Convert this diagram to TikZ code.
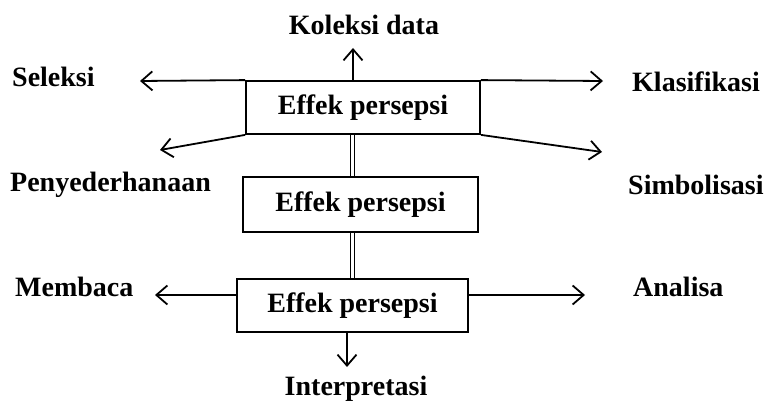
\documentclass[tikz,border=0pt]{standalone}
\usepackage{fontspec}
\setmainfont{Liberation Serif}
\usetikzlibrary{arrows.meta}
\begin{document}
\begin{tikzpicture}[x=1pt,y=-1pt,
  box/.style={draw,line width=1.8pt,inner sep=0pt,font=\fontsize{28pt}{34pt}\selectfont\bfseries},
  lbl/.style={inner sep=0pt,anchor=base west,font=\fontsize{28pt}{34pt}\selectfont\bfseries},
  arr/.style={line width=1.8pt,-{Straight Barb[length=11pt,width=19pt,line width=1.8pt]}},
  dbl/.style={draw,double,line width=1.4pt,double distance=2.5pt}]
\useasboundingbox (0,0) rectangle (774,406);
\node[box,minimum width=234pt,minimum height=53pt] (b1) at (363,107.5) {Effek persepsi};
\node[box,minimum width=235pt,minimum height=55pt] (b2) at (360.5,204.5) {Effek persepsi};
\node[box,minimum width=231pt,minimum height=53pt] (b3) at (352.5,305.5) {Effek persepsi};
\node[lbl,anchor=base] (kol) at (364,35) {Koleksi data};
\node[lbl] (sel) at (12,87) {Seleksi};
\node[lbl] (kla) at (632,92) {Klasifikasi};
\node[lbl] (pen) at (10,192) {Penyederhanaan};
\node[lbl] (sim) at (628,195) {Simbolisasi};
\node[lbl] (mem) at (15,297) {Membaca};
\node[lbl] (ana) at (633,297) {Analisa};
\node[lbl,anchor=base] (int) at (356,395) {Interpretasi};
\coordinate (tkol) at (353,48);
\coordinate (tsel) at (140,81);
\coordinate (tkla) at (603,81);
\coordinate (tpen) at (160,150);
\coordinate (tsim) at (602,152);
\coordinate (tmem) at (155,295);
\coordinate (tana) at (585,295);
\coordinate (tint) at (347,367);
\draw[arr] (b1.north -| tkol) -- (tkol);
\draw[arr] (b1.north west) -- (tsel);
\draw[arr] (b1.north east) -- (tkla);
\draw[arr] (b1.south west) -- (tpen);
\draw[arr] (b1.south east) -- (tsim);
\draw[arr] (b3.west |- tmem) -- (tmem);
\draw[arr] (b3.east |- tana) -- (tana);
\draw[arr] (b3.south -| tint) -- (tint);
\draw[dbl] (352.5,0 |- b1.south) -- (352.5,0 |- b2.north);
\draw[dbl] (352.5,0 |- b2.south) -- (352.5,0 |- b3.north);
\end{tikzpicture}
\end{document}
